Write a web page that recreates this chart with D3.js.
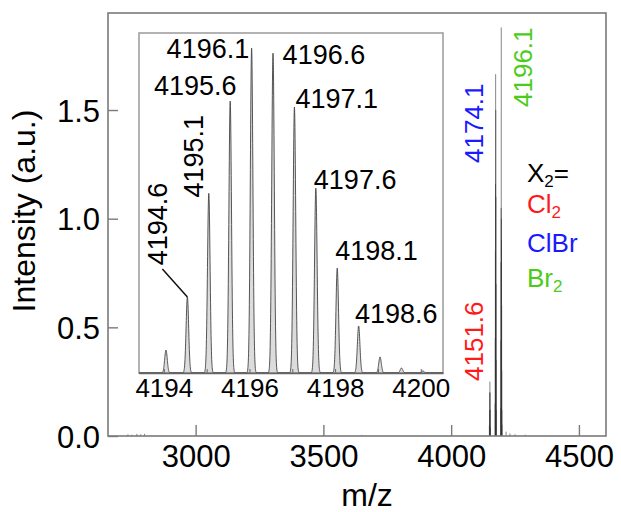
<!DOCTYPE html>
<html>
<head>
<meta charset="utf-8">
<script src="https://cdn.jsdelivr.net/npm/d3@7"></script>
<style>
  body { margin: 0; background: #fff; }
  text { font-family: "Liberation Sans", Arial, sans-serif; }
</style>
</head>
<body>
<div id="canvas"></div>
<script>
// main spectrum sticks (m/z, intensity a.u.)
const mainMz = [2735, 2750, 2770, 2785, 2800, 3650,
  4149.6, 4150.6, 4151.1, 4151.6, 4152.1, 4152.6, 4153.6,
  4172.1, 4172.6, 4173.1, 4173.6, 4174.1, 4174.6, 4175.1, 4175.6, 4176.1, 4176.6,
  4194.1, 4194.6, 4195.1, 4195.6, 4196.1, 4196.6, 4197.1, 4197.6, 4198.1, 4198.6, 4199.1,
  4215, 4230, 4250, 4290];
const mainInt = [0.008, 0.006, 0.01, 0.008, 0.01, 0.005,
  0.05, 0.12, 0.2, 0.25, 0.2, 0.12, 0.04,
  0.15, 0.45, 0.85, 1.16, 1.665, 1.5, 1.1, 0.7, 0.35, 0.12,
  0.13, 0.44, 0.8, 1.05, 1.88, 1.0, 0.9, 0.6, 0.3, 0.12, 0.05,
  0.02, 0.012, 0.008, 0.006];

const xTicks = [3000, 3500, 4000, 4500];
const yTicks = [0, 0.5, 1.0, 1.5];

// inset: isotope pattern of the Br2 species
const insetMz = [4194.05, 4194.55, 4195.05, 4195.55, 4196.05, 4196.55, 4197.05,
  4197.55, 4198.05, 4198.55, 4199.05, 4199.55, 4200.05];
const insetInt = [0.133, 0.44, 1.04, 1.573, 1.88, 1.851, 1.539, 1.07, 0.607, 0.272, 0.093, 0.029, 0.012];
const insetLabels = ["4194.6", "4195.1", "4195.6", "4196.1", "4196.6", "4197.1", "4197.6", "4198.1", "4198.6"];
const insetTicks = [4194, 4195, 4196, 4197, 4198, 4199, 4200];

const clusterMz = [4151.6, 4174.1, 4196.1];
const clusterLabels = ["4151.6", "4174.1", "4196.1"];
const clusterColors = ["#ff1a1a", "#1a1aff", "#4ccc1a"];

const legendBase = ["X", "Cl", "ClBr", "Br"];
const legendSub = ["2", "2", "", "2"];
const legendTail = ["=", "", "", ""];
const legendColors = ["#000", "#ff1a1a", "#1a1aff", "#4ccc1a"];

const W = 621, H = 512;
const svg = d3.select("#canvas").append("svg")
  .attr("width", W).attr("height", H);

// main scales
const x = d3.scaleLinear().domain([2657, 4606]).range([108, 606]);
const y = d3.scaleLinear().domain([0, 1.9465]).range([436, 13]);

// main sticks
svg.append("g").selectAll("line")
  .data(mainMz.map((m, i) => ({ m, v: mainInt[i] })))
  .enter().append("line")
  .attr("x1", d => x(d.m)).attr("x2", d => x(d.m))
  .attr("y1", y(0)).attr("y2", d => y(d.v))
  .attr("stroke", "#333").attr("stroke-width", 0.6);

// frame
svg.append("rect")
  .attr("x", 108).attr("y", 13).attr("width", 606 - 108).attr("height", 436 - 13)
  .attr("fill", "none").attr("stroke", "#7a7a7a").attr("stroke-width", 1.6);

// axes
const xAxis = d3.axisBottom(x).tickValues(xTicks).tickSizeInner(-11).tickSizeOuter(0).tickPadding(9)
  .tickFormat(d3.format("d"));
const yAxis = d3.axisLeft(y).tickValues(yTicks).tickSizeInner(-10).tickSizeOuter(0).tickPadding(8)
  .tickFormat(d3.format(".1f"));

const gx = svg.append("g").attr("transform", "translate(0,436)").call(xAxis);
const gy = svg.append("g").attr("transform", "translate(108,0)").call(yAxis);
[gx, gy].forEach(g => {
  g.select(".domain").remove();
  g.selectAll("line").attr("stroke", "#7a7a7a").attr("stroke-width", 1.4);
  g.selectAll("text").attr("fill", "#000").style("font-size", "31px")
    .style("font-family", "'Liberation Sans', Arial, sans-serif");
});
gy.selectAll("text").attr("dy", "0.36em");

svg.append("text").attr("x", 367).attr("y", 506).attr("text-anchor", "middle")
  .style("font-size", "32px").text("m/z");
svg.append("text").attr("transform", "translate(35,211) rotate(-90)").attr("text-anchor", "middle")
  .style("font-size", "32px").text("Intensity (a.u.)");

// cluster labels (rotated)
const clusterLayout = [{ dx: -7, y: 381 }, { dx: -12.5, y: 163 }, { dx: 30.6, y: 107 }];
clusterLabels.forEach((t, i) => {
  svg.append("text")
    .attr("transform", `translate(${x(clusterMz[i]) + clusterLayout[i].dx},${clusterLayout[i].y}) rotate(-90)`)
    .attr("fill", clusterColors[i]).style("font-size", "26px").text(t);
});

// legend
const legendY = [182, 213, 252, 287];
legendBase.forEach((t, i) => {
  const tx = svg.append("text").attr("x", 527).attr("y", legendY[i])
    .attr("fill", legendColors[i]).style("font-size", "26px");
  tx.append("tspan").text(t);
  if (legendSub[i]) tx.append("tspan").attr("dy", 5).style("font-size", "17px").text(legendSub[i]);
  if (legendTail[i]) tx.append("tspan").attr("dy", -5).text(legendTail[i]);
});

// inset
const ix = d3.scaleLinear().domain([4193.42, 4200.52]).range([139, 443]);
const iy = d3.scaleLinear().domain([0, 1.967]).range([373, 33]);
const inset = svg.append("g");
inset.append("rect").attr("x", 139).attr("y", 33).attr("width", 443 - 139).attr("height", 373 - 33)
  .attr("fill", "#fff").attr("stroke", "#a0a0a0").attr("stroke-width", 1.6);

const sigma = 0.03;
const samples = d3.range(ix.domain()[0], ix.domain()[1], 0.003).map(m => {
  let v = 0;
  insetMz.forEach((c, k) => { v += insetInt[k] * Math.exp(-((m - c) ** 2) / (2 * sigma * sigma)); });
  return [m, v];
});
const area = d3.area().x(d => ix(d[0])).y0(iy(0)).y1(d => iy(d[1]));
inset.append("path").datum(samples).attr("d", area)
  .attr("fill", "#dcdcdc").attr("stroke", "#444").attr("stroke-width", 0.9);

const ixAxis = d3.axisBottom(ix).tickValues(insetTicks).tickSizeInner(-4).tickSizeOuter(0).tickPadding(6)
  .tickFormat(d => d % 2 === 0 ? d : "");
const gix = inset.append("g").attr("transform", "translate(0,373)").call(ixAxis);
gix.select(".domain").attr("stroke", "#666").attr("stroke-width", 1.4);
gix.selectAll("line").attr("stroke", "#666");
gix.selectAll("text").attr("fill", "#000").style("font-size", "26px")
  .style("font-family", "'Liberation Sans', Arial, sans-serif");

// inset peak labels, offsets from peak tops
const insetLayout = [
  { dx: -20.5, dy: -31.7, rot: true },
  { dx: -5.6, dy: 4.3, rot: true },
  { dx: 6.4, dy: -6, anchor: "end" },
  { dx: -2.4, dy: 10, anchor: "end" },
  { dx: 9.6, dy: 11.3, anchor: "start" },
  { dx: 1, dy: 1.3, anchor: "start" },
  { dx: -2, dy: 0.6, anchor: "start" },
  { dx: -2, dy: -7.6, anchor: "start" },
  { dx: -3.7, dy: -2.7, anchor: "start" }
];
insetLabels.forEach((t, i) => {
  const px = ix(insetMz[i + 1]), py = iy(insetInt[i + 1]);
  const l = insetLayout[i];
  const tx = inset.append("text").style("font-size", "27px").attr("fill", "#000").text(t);
  if (l.rot) {
    tx.attr("transform", `translate(${px + l.dx},${py + l.dy}) rotate(-90)`);
  } else {
    tx.attr("x", px + l.dx).attr("y", py + l.dy).attr("text-anchor", l.anchor);
  }
});
// leader line for 4194.6
inset.append("line")
  .attr("x1", ix(insetMz[1])).attr("y1", iy(insetInt[1]))
  .attr("x2", ix(insetMz[1]) - 25).attr("y2", iy(insetInt[1]) - 28)
  .attr("stroke", "#111").attr("stroke-width", 1.5);
</script>
</body>
</html>
